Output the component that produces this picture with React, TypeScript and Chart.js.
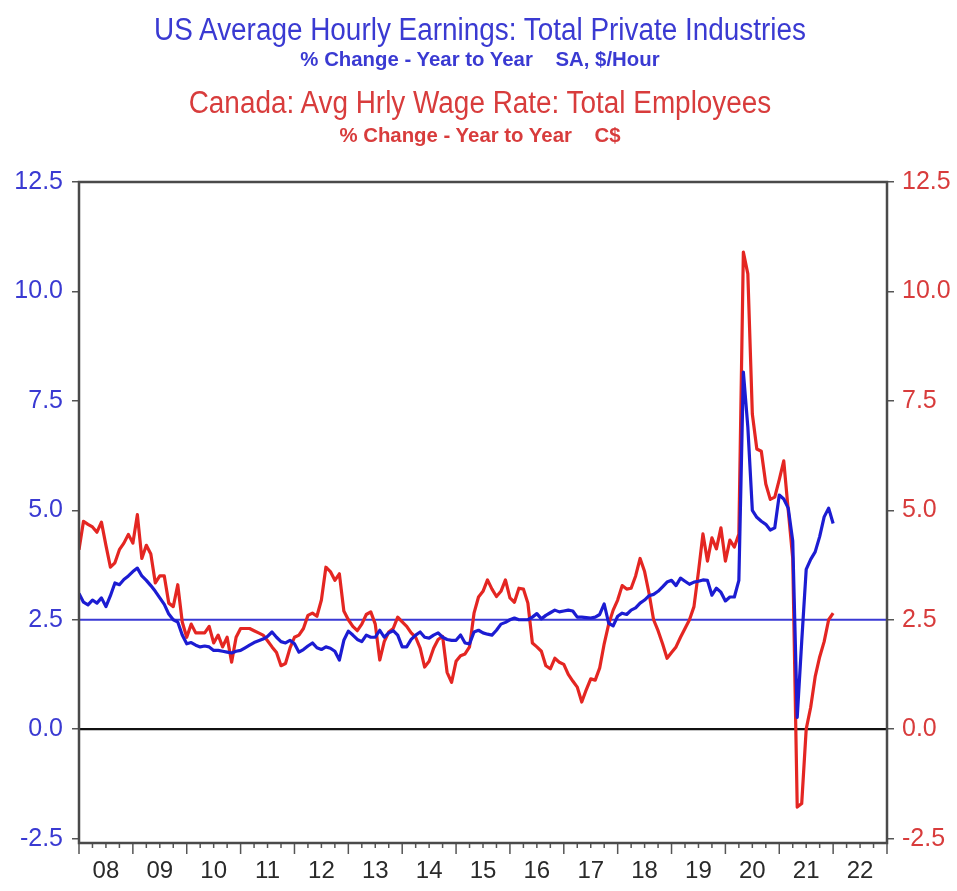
import React, { useEffect, useRef } from "react";
import { Chart, registerables } from "chart.js";

Chart.register(...registerables);

// Monthly series, index 0 = Dec 2007 (plotted at the end of each month)
const START_YEAR = 2008;

const usEarnings = [
  3.1, 2.9, 2.84, 2.95, 2.88, 3.0, 2.8, 3.05, 3.34, 3.3, 3.42, 3.5,
  3.6, 3.68, 3.5, 3.4, 3.28, 3.15, 3.0, 2.85, 2.63, 2.5, 2.45, 2.15,
  1.95, 1.98, 1.92, 1.88, 1.9, 1.88, 1.8, 1.8, 1.78, 1.76, 1.74, 1.78,
  1.8, 1.86, 1.92, 1.98, 2.02, 2.06, 2.12, 2.22, 2.1, 2.0, 1.97, 2.03,
  1.95, 1.76, 1.82, 1.9, 1.97, 1.86, 1.82, 1.88, 1.85, 1.78, 1.58, 2.03,
  2.24, 2.15, 2.05, 2.0, 2.15, 2.1, 2.1, 2.26, 2.1, 2.2, 2.25, 2.15,
  1.88, 1.88, 2.05, 2.15, 2.22, 2.1, 2.08, 2.15, 2.2, 2.1, 2.05, 2.03,
  2.03, 2.15, 1.97, 1.95, 2.22, 2.26, 2.2, 2.17, 2.15, 2.26, 2.4, 2.44,
  2.5, 2.54, 2.5, 2.5, 2.5, 2.56, 2.64, 2.52, 2.6, 2.66, 2.72, 2.68,
  2.7, 2.72, 2.7, 2.56, 2.56, 2.55, 2.54, 2.56, 2.62, 2.86, 2.42, 2.36,
  2.58, 2.65, 2.62, 2.72, 2.77, 2.88, 2.95, 3.05, 3.08, 3.15, 3.25, 3.36,
  3.4, 3.28, 3.45, 3.38, 3.31, 3.36, 3.38, 3.41, 3.4, 3.06, 3.22, 3.13,
  2.93, 3.02, 3.02, 3.4, 8.16, 6.9, 5.0, 4.84, 4.75, 4.68, 4.55, 4.6,
  5.35, 5.26, 5.05, 4.3, 0.27, 2.0, 3.65, 3.88, 4.05, 4.4, 4.85, 5.05, 4.7,
];

const canadaWages = [
  4.1, 4.75, 4.68, 4.62, 4.5, 4.73, 4.2, 3.7, 3.8, 4.1, 4.25, 4.45,
  4.25, 4.9, 3.9, 4.2, 4.0, 3.34, 3.5, 3.5, 2.88, 2.8, 3.3, 2.45,
  2.1, 2.4, 2.2, 2.2, 2.2, 2.35, 1.97, 2.15, 1.88, 2.1, 1.53, 2.1,
  2.3, 2.3, 2.3, 2.25, 2.2, 2.15, 2.02, 1.88, 1.75, 1.45, 1.5, 1.85,
  2.1, 2.15, 2.3, 2.6, 2.65, 2.58, 2.95, 3.7, 3.6, 3.4, 3.55, 2.7,
  2.5, 2.35, 2.25, 2.4, 2.62, 2.68, 2.4, 1.58, 2.0, 2.22, 2.3, 2.56,
  2.45, 2.35, 2.2, 2.1, 1.85, 1.42, 1.55, 1.85, 2.05, 2.12, 1.3, 1.07,
  1.55, 1.68, 1.72, 1.88, 2.65, 3.02, 3.15, 3.41, 3.2, 3.03, 3.15, 3.41,
  3.0, 2.9, 3.22, 3.2, 2.88, 1.97, 1.88, 1.78, 1.45, 1.38, 1.62, 1.53,
  1.48, 1.25, 1.1, 0.96, 0.62, 0.9, 1.15, 1.12, 1.4, 1.95, 2.4, 2.72,
  2.95, 3.28, 3.2, 3.22, 3.5, 3.9, 3.6, 3.1, 2.5, 2.25, 1.95, 1.62,
  1.75, 1.88, 2.1, 2.3, 2.5, 2.8, 3.6, 4.46, 3.84, 4.37, 4.12, 4.6,
  3.84, 4.32, 4.16, 4.46, 10.9, 10.4, 7.2, 6.4, 6.35, 5.6, 5.25, 5.3,
  5.7, 6.13, 5.0, 3.9, -1.78, -1.7, 0.0, 0.5, 1.2, 1.65, 2.0, 2.5, 2.65,
];

const yearLabels = ["08", "09", "10", "11", "12", "13", "14", "15", "16", "17", "18", "19", "20", "21", "22"];
const yTickValues = [-2.5, 0, 2.5, 5, 7.5, 10, 12.5];
const referenceLevel = 2.5;
const zeroLevel = 0;

const X_MIN = 2008;
const X_MAX = 2023;
const Y_MIN = -2.6;
const Y_MAX = 12.5;

const BLUE_LINE = "#1c1cd2";
const RED_LINE = "#e42622";
const BLUE_TEXT = "#3a3ad2";
const RED_TEXT = "#d83c3c";
const FONT = "'Liberation Sans', Arial, sans-serif";

const toPoints = (arr: number[]) => arr.map((v, i) => ({ x: START_YEAR + i / 12, y: v }));

const frameTicksPlugin = {
  id: "frameTicks",
  afterDraw(chart: any) {
    const { ctx, chartArea: a, scales } = chart;
    const xs = scales.x;
    ctx.save();
    ctx.strokeStyle = "#555";
    ctx.lineWidth = 1.5;
    const quarters = (X_MAX - X_MIN) * 4;
    for (let q = 0; q <= quarters; q++) {
      const px = xs.getPixelForValue(X_MIN + q / 4);
      const len = q % 4 === 0 ? 11 : 5;
      ctx.beginPath();
      ctx.moveTo(px, a.bottom);
      ctx.lineTo(px, a.bottom + len);
      ctx.stroke();
    }
    ctx.strokeStyle = "#4a4a4a";
    ctx.lineWidth = 2.5;
    ctx.strokeRect(a.left, a.top, a.right - a.left, a.bottom - a.top);
    ctx.restore();
  },
};

function ChartCanvas() {
  const ref = useRef<HTMLCanvasElement | null>(null);
  useEffect(() => {
    if (!ref.current) return;
    const yAxisCommon = (color: string, width: number, pad: number, position: "left" | "right") => ({
      type: "linear" as const,
      position,
      min: Y_MIN,
      max: Y_MAX,
      grid: { display: true, drawOnChartArea: false, drawTicks: true, tickLength: 7, color: "#555", lineWidth: 1.5 },
      border: { display: false },
      ticks: {
        color,
        padding: pad,
        font: { family: FONT, size: 25 },
        callback: (v: any) => Number(v).toFixed(1),
      },
      afterBuildTicks: (s: any) => {
        s.ticks = yTickValues.map((v) => ({ value: v }));
      },
      afterFit: (s: any) => {
        s.width = width;
      },
    });
    const chart = new Chart(ref.current, {
      type: "line",
      data: {
        datasets: [
          {
            label: "US",
            data: toPoints(usEarnings),
            borderColor: BLUE_LINE,
            borderWidth: 3.2,
            pointRadius: 0,
            tension: 0,
            borderJoinStyle: "round",
            yAxisID: "y",
            order: 0,
          },
          {
            label: "Canada",
            data: toPoints(canadaWages),
            borderColor: RED_LINE,
            borderWidth: 3.2,
            pointRadius: 0,
            tension: 0,
            borderJoinStyle: "round",
            yAxisID: "y1",
            order: 1,
          },
          {
            label: "ref",
            data: [
              { x: X_MIN, y: referenceLevel },
              { x: X_MAX, y: referenceLevel },
            ],
            borderColor: "#3a3ad4",
            borderWidth: 1.8,
            pointRadius: 0,
            yAxisID: "y",
            order: 2,
          },
          {
            label: "zero",
            data: [
              { x: X_MIN, y: zeroLevel },
              { x: X_MAX, y: zeroLevel },
            ],
            borderColor: "#111",
            borderWidth: 2.2,
            pointRadius: 0,
            yAxisID: "y",
            order: 3,
          },
        ],
      },
      options: {
        responsive: false,
        animation: false,
        layout: { padding: { top: 182, left: 0, right: 0, bottom: 0 } },
        plugins: { legend: { display: false }, tooltip: { enabled: false }, title: { display: false } },
        scales: {
          x: {
            type: "linear",
            min: X_MIN,
            max: X_MAX,
            grid: { display: false, drawTicks: false },
            border: { display: false },
            ticks: {
              color: "#2a2a2a",
              padding: 14,
              autoSkip: false,
              maxRotation: 0,
              font: { family: FONT, size: 24 },
              callback: (v: any) => yearLabels[Math.round(Number(v) - X_MIN - 0.5)] ?? "",
            },
            afterBuildTicks: (s: any) => {
              s.ticks = yearLabels.map((_, k) => ({ value: X_MIN + 0.5 + k }));
            },
            afterFit: (s: any) => {
              s.height = 48;
            },
          },
          y: yAxisCommon(BLUE_TEXT, 79, 9, "left"),
          y1: yAxisCommon(RED_TEXT, 70, 8, "right"),
        },
      },
      plugins: [frameTicksPlugin],
    });
    return () => chart.destroy();
  }, []);
  return <canvas ref={ref} width={957} height={891} style={{ position: "absolute", left: 0, top: 0 }} />;
}

const titleLine = (text: string, top: number, size: number, color: string, weight: number, sx: number) => (
  <div
    style={{
      position: "absolute",
      left: 0,
      top,
      width: 960,
      textAlign: "center",
      fontFamily: FONT,
      fontSize: size,
      lineHeight: `${size}px`,
      color,
      fontWeight: weight,
      whiteSpace: "pre",
      transform: `scaleX(${sx})`,
      transformOrigin: "480px 0",
    }}
  >
    {text}
  </div>
);

export default function App() {
  return (
    <div style={{ position: "absolute", left: 0, top: 0, width: 957, height: 891, background: "#fff", overflow: "hidden" }}>
      <ChartCanvas />
      {titleLine("US Average Hourly Earnings: Total Private Industries", 14, 31, BLUE_TEXT, 400, 0.9)}
      {titleLine("% Change - Year to Year    SA, $/Hour", 48, 21, BLUE_TEXT, 700, 0.97)}
      {titleLine("Canada: Avg Hrly Wage Rate: Total Employees", 87, 31, RED_TEXT, 400, 0.9)}
      {titleLine("% Change - Year to Year    C$", 124, 21, RED_TEXT, 700, 0.97)}
    </div>
  );
}
